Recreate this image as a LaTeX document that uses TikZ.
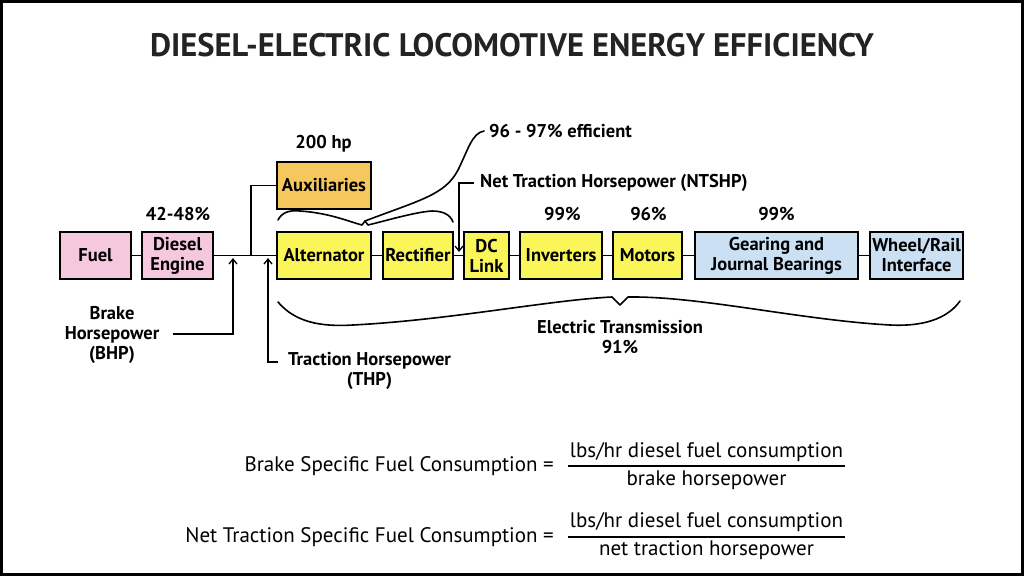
\documentclass[tikz,border=0pt]{standalone}
\usepackage{fontspec}
\setmainfont{PT Sans}
\usetikzlibrary{arrows.meta}
\definecolor{pinkf}{RGB}{246,200,222}
\definecolor{orangef}{RGB}{246,199,92}
\definecolor{yellowf}{RGB}{250,246,90}
\definecolor{bluef}{RGB}{204,224,244}
\definecolor{titlec}{RGB}{35,35,35}
\begin{document}
\begin{tikzpicture}[x=1pt,y=-1pt,
  box/.style={draw=black, line width=1.3pt, inner sep=0pt, align=center, minimum height=47pt, font=\bfseries\fontsize{18.5}{20}\selectfont},
  lbl/.style={align=center, inner sep=0pt, font=\bfseries\fontsize{18.5}{20}\selectfont},
  conn/.style={line width=1.3pt},
  arr/.style={line width=1.3pt, -{Straight Barb[length=5pt,width=8pt]}},
  brace/.style={line width=1.6pt, line join=round, line cap=round},
  frm/.style={inner sep=0pt, font=\fontsize{21}{24}\selectfont}]
\useasboundingbox (0,0) rectangle (1024,576);
\fill[white] (0,0) rectangle (1024,576);
\draw[line width=3pt] (1.5,1.5) rectangle (1022.5,574.5);

% title
\node[font=\bfseries\fontsize{32.5}{36}\selectfont, text=titlec] (title) at (512,45) {DIESEL-ELECTRIC LOCOMOTIVE ENERGY EFFICIENCY};

% boxes
\node[box, fill=pinkf, minimum width=71pt] (fuel) at (95.5,255.5) {Fuel};
\node[box, fill=pinkf, minimum width=71pt] (diesel) at (177.5,255.5) {Diesel\\Engine};
\node[box, fill=orangef, minimum width=94pt] (aux) at (324,185.5) {Auxiliaries};
\node[box, fill=yellowf, minimum width=94pt] (alt) at (324,255.5) {Alternator};
\node[box, fill=yellowf, minimum width=70pt] (rect) at (418,255.5) {Rectifier};
\node[box, fill=yellowf, minimum width=45pt] (dc) at (486.5,255.5) {DC\\Link};
\node[box, fill=yellowf, minimum width=82pt] (inv) at (561,255.5) {Inverters};
\node[box, fill=yellowf, minimum width=69pt] (mot) at (647.5,255.5) {Motors};
\node[box, fill=bluef, minimum width=163pt] (gear) at (776.5,255.5) {Gearing and\\Journal Bearings};
\node[box, fill=bluef, minimum width=93pt] (wheel) at (916.5,255.5) {Wheel/Rail\\Interface};

% connectors
\coordinate (j1) at (251,255.5);
\draw[conn] (fuel) -- (diesel);
\draw[conn] (diesel) -- (alt);
\draw[conn] (j1) |- (aux.west);
\draw[conn] (alt) -- (rect);
\draw[conn] (rect) -- (dc);
\draw[conn] (dc) -- (inv);
\draw[conn] (inv) -- (mot);
\draw[conn] (mot) -- (gear);
\draw[conn] (gear) -- (wheel);

% labels
\node[lbl] (p1) at (178,214) {42-48\%};
\node[lbl] (p2) at (323.5,144) {200 hp};
\node[lbl] (p3) at (562.5,214.5) {99\%};
\node[lbl] (p4) at (648.5,214.5) {96\%};
\node[lbl] (p5) at (776.5,214) {99\%};
\node[lbl] (et) at (620,337) {Electric Transmission\\91\%};

% BHP
\node[lbl] (bhp) at (112,335) {Brake\\Horsepower\\(BHP)};
\coordinate (bhpa) at (173,334);
\coordinate (bhpc) at (233,334);
\coordinate (bhpt) at (233,258);
\draw[arr] (bhpa) -- (bhpc) -- (bhpt);

% THP
\node[lbl] (thp) at (369.5,371) {Traction Horsepower\\(THP)};
\coordinate (thpa) at (278,362);
\coordinate (thpt) at (268,258);
\draw[arr] (thpa) -| (thpt);

% NTSHP
\node[lbl, anchor=west] (nts) at (480,183) {Net Traction Horsepower (NTSHP)};
\coordinate (ntst) at (459,252);
\draw[arr] ([xshift=-6pt]nts.west) -| (ntst);

% efficiency leader and top brace
\node[lbl, anchor=west] (eff) at (489,131) {96 - 97\% efficient};
\draw[brace] (278,220) .. controls (282,212) and (290,210) .. (300,211)
  .. controls (330,213) and (350,222) .. (362,225) -- (365,221) -- (368,225)
  .. controls (385,221) and (415,212) .. (432,211)
  .. controls (442,211) and (450,214) .. (453,222);
\draw[brace] (365,221) .. controls (420,200) and (445,195) .. (458,170)
  .. controls (468,150) and (472,133) .. ([xshift=-5pt]eff.west);

% bottom brace
\draw[brace] (278,302) .. controls (295,322) and (320,327) .. (353,325)
  .. controls (450,320) and (550,300) .. (612,297) -- (620,305) -- (628,297)
  .. controls (700,296) and (800,320) .. (890,325)
  .. controls (930,327) and (950,315) .. (960,301);

% formulas
\node[frm, anchor=east] (f1) at (554,466) {Brake Specific Fuel Consumption =};
\node[frm] (n1) at (706.5,452) {lbs/hr diesel fuel consumption};
\node[frm] (d1) at (706.5,480) {brake horsepower};
\coordinate (r1a) at (568,466);
\coordinate (r1b) at (845,466);
\draw[conn] (r1a) -- (r1b);

\node[frm, anchor=east] (f2) at (554,537) {Net Traction Specific Fuel Consumption =};
\node[frm] (n2) at (706.5,522) {lbs/hr diesel fuel consumption};
\node[frm] (d2) at (706.5,550) {net traction horsepower};
\coordinate (r2a) at (568,537);
\coordinate (r2b) at (845,537);
\draw[conn] (r2a) -- (r2b);
\end{tikzpicture}
\end{document}
